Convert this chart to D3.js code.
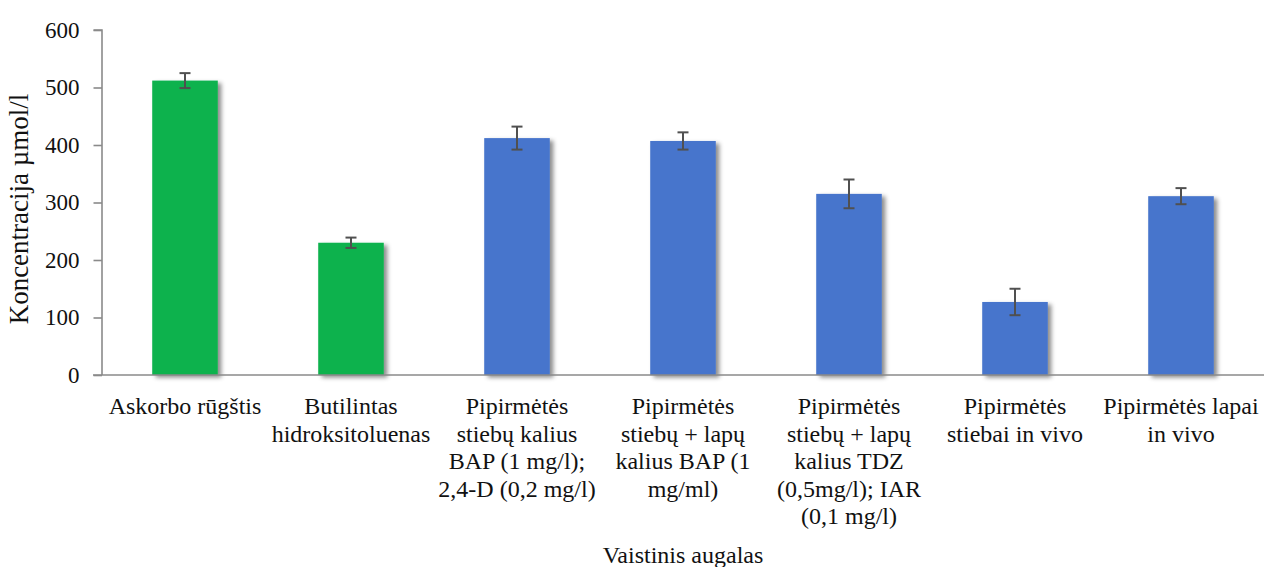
<!DOCTYPE html>
<html>
<head>
<meta charset="utf-8">
<script src="https://cdn.jsdelivr.net/npm/d3@7"></script>
<style>
  html, body { margin: 0; padding: 0; background: #ffffff; }
  svg { display: block; }
</style>
</head>
<body>
<svg id="chart" width="1264" height="567"></svg>
<script>
// Antioxidant concentration by sample (µmol/l), mean and error
const categories = [
  ["Askorbo rūgštis"],
  ["Butilintas", "hidroksitoluenas"],
  ["Pipirmėtės", "stiebų kalius", "BAP (1 mg/l);", "2,4-D (0,2 mg/l)"],
  ["Pipirmėtės", "stiebų + lapų", "kalius BAP (1", "mg/ml)"],
  ["Pipirmėtės", "stiebų + lapų", "kalius TDZ", "(0,5mg/l); IAR", "(0,1 mg/l)"],
  ["Pipirmėtės", "stiebai in vivo"],
  ["Pipirmėtės lapai", "in vivo"]
];
const values = [512, 230, 412, 407, 315, 127, 311];
const errors = [13, 9, 20, 15, 25, 23, 14];
const groups = ["ref", "ref", "sample", "sample", "sample", "sample", "sample"];
const yTicks = [0, 100, 200, 300, 400, 500, 600];
const yTitle = "Koncentracija µmol/l";
const xTitle = "Vaistinis augalas";

const colors = { ref: "#0bb24e", sample: "#4674cc" };
const serif = "'Liberation Serif', 'Times New Roman', Times, serif";

const svg = d3.select("#chart").style("font-family", serif);
const plotLeft = 102, plotRight = 1264, plotTop = 30, plotBottom = 375;

const x = d3.scaleBand()
  .domain(d3.range(categories.length))
  .range([plotLeft, plotRight])
  .paddingInner(0.605)
  .paddingOuter(0.3025);

const y = d3.scaleLinear().domain([0, 600]).range([plotBottom, plotTop]);

// soft drop shadow under the bars
const defs = svg.append("defs");
const f = defs.append("filter").attr("id", "shadow")
  .attr("x", "-20%").attr("y", "-20%").attr("width", "150%").attr("height", "150%");
f.append("feDropShadow")
  .attr("dx", 3.5).attr("dy", 2.5).attr("stdDeviation", 2.2)
  .attr("flood-color", "#000").attr("flood-opacity", 0.45);

// bars
svg.append("g").selectAll("rect")
  .data(values)
  .join("rect")
  .attr("x", (d, i) => x(i))
  .attr("y", d => y(d))
  .attr("width", x.bandwidth())
  .attr("height", d => y(0) - y(d))
  .attr("fill", (d, i) => colors[groups[i]])
  .attr("filter", "url(#shadow)");

// error bars
const eg = svg.append("g").attr("stroke", "#505050").attr("stroke-width", 2).attr("fill", "none");
values.forEach((v, i) => {
  const cx = x(i) + x.bandwidth() / 2;
  const y1 = y(v + errors[i]), y2 = y(v - errors[i]);
  eg.append("line").attr("x1", cx).attr("x2", cx).attr("y1", y1).attr("y2", y2);
  eg.append("line").attr("x1", cx - 5.5).attr("x2", cx + 5.5).attr("y1", y1).attr("y2", y1);
  eg.append("line").attr("x1", cx - 5.5).attr("x2", cx + 5.5).attr("y1", y2).attr("y2", y2);
});

// y axis
const yAxis = svg.append("g")
  .attr("transform", `translate(${plotLeft},0)`)
  .call(d3.axisLeft(y).tickValues(yTicks).tickSize(8.5).tickPadding(14).tickFormat(d3.format("d")));
yAxis.attr("font-family", null).attr("font-size", null);
yAxis.select(".domain").attr("stroke", "#8a8a8a").attr("stroke-width", 1.6)
  .attr("d", `M-8.5,${plotTop}H0V${plotBottom}`);
yAxis.selectAll(".tick line").attr("stroke", "#8a8a8a").attr("stroke-width", 1.6);
yAxis.selectAll(".tick text")
  .style("font-family", serif)
  .style("font-size", "23px").attr("fill", "#111");

// x axis line
svg.append("line")
  .attr("x1", plotLeft - 9).attr("x2", plotRight)
  .attr("y1", plotBottom).attr("y2", plotBottom)
  .attr("stroke", "#8a8a8a").attr("stroke-width", 1.6);

// category labels
const lineStep = 27.6;
const lg = svg.append("g")
  .style("font-family", serif).style("font-size", "24px")
  .attr("text-anchor", "middle").attr("fill", "#111");
categories.forEach((lines, i) => {
  const cx = x(i) + x.bandwidth() / 2;
  const t = lg.append("text").attr("x", cx).attr("y", 414);
  lines.forEach((s, k) => {
    t.append("tspan").attr("x", cx).attr("y", 414 + k * lineStep).text(s);
  });
});

// axis titles
svg.append("text")
  .attr("x", (plotLeft + plotRight) / 2)
  .attr("y", 563)
  .attr("text-anchor", "middle")
  .style("font-family", serif).style("font-size", "24px")
  .attr("fill", "#111")
  .text(xTitle);

svg.append("text")
  .attr("transform", `translate(28,209) rotate(-90)`)
  .attr("text-anchor", "middle")
  .style("font-family", serif).style("font-size", "27px")
  .attr("fill", "#111")
  .text(yTitle);
</script>
</body>
</html>
